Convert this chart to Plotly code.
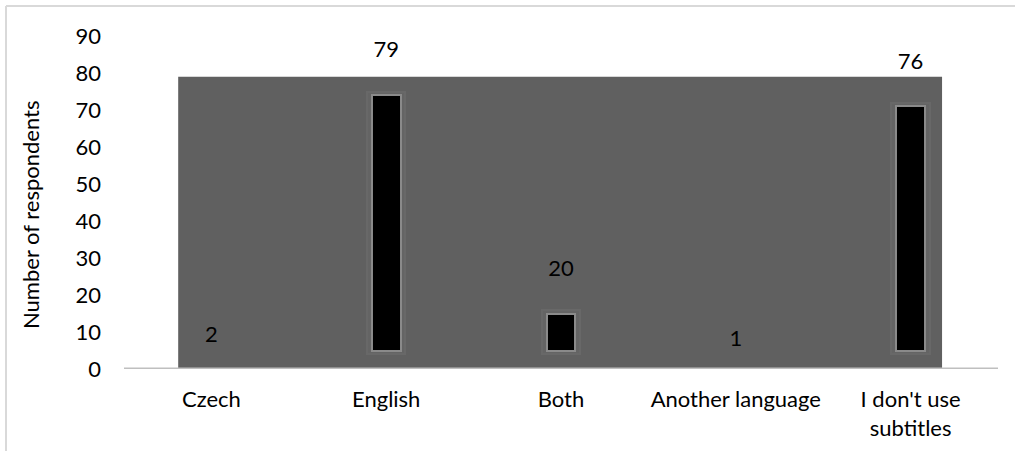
import plotly.graph_objects as go

categories = ["Czech", "English", "Both", "Another language", "I don't use<br>subtitles"]
values = [2, 79, 20, 1, 76]
y_ticks = [0, 10, 20, 30, 40, 50, 60, 70, 80, 90]

FONT = "Lato"
FS = 22
inset = 5
x_idx = list(range(len(categories)))

black_len = [v - 2 * inset if v > 2 * inset else None for v in values]

fig = go.Figure()

# faint halo behind bars
fig.add_trace(go.Bar(
    x=x_idx, y=[b + 2 if b else None for b in black_len], base=inset - 1,
    width=0.22, marker=dict(color="#646464", line=dict(color="#686868", width=2)),
    hoverinfo="skip", showlegend=False))
fig.add_trace(go.Bar(
    x=x_idx, y=black_len, base=inset, width=0.165,
    marker=dict(color="#000000", line=dict(color="#8a8a8a", width=2)),
    showlegend=False))

fig.add_trace(go.Scatter(
    x=x_idx, y=[v + 6.7 for v in values], mode="text",
    text=[str(v) for v in values], textposition="middle center",
    textfont=dict(family=FONT, size=FS, color="#000000"),
    hoverinfo="skip", showlegend=False))

fig.update_layout(
    width=1015, height=457,
    margin=dict(l=124, r=17, t=36, b=88),
    paper_bgcolor="white", plot_bgcolor="white",
    bargap=0, barmode="overlay",
    font=dict(family=FONT, size=FS, color="#000000"),
    xaxis=dict(range=[-0.5, 4.5], tickmode="array", tickvals=x_idx, ticktext=categories,
               showgrid=False, zeroline=False, showline=False, ticks="",
               ticklabelstandoff=15, tickfont=dict(family=FONT, size=FS, color="#000000")),
    yaxis=dict(range=[0, 90], tickmode="array", tickvals=y_ticks,
               ticktext=[str(t) for t in y_ticks],
               showgrid=False, zeroline=False, showline=False, ticks="",
               ticklabelstandoff=22, tickfont=dict(family=FONT, size=FS, color="#000000")),
    shapes=[
        dict(type="rect", xref="x", yref="y", x0=-0.19, x1=4.18, y0=0, y1=max(values),
             fillcolor="#606060", line=dict(width=0), layer="below"),
        dict(type="line", xref="paper", yref="y", x0=0, x1=1, y0=0, y1=0,
             line=dict(color="#bfbfbf", width=3), layer="above"),
        dict(type="line", xref="paper", yref="paper", x0=-118 / 874, x1=-118 / 874,
             y0=-82 / 333, y1=1 + 30 / 333, line=dict(color="#d9d9d9", width=2)),
        dict(type="line", xref="paper", yref="paper", x0=-118 / 874, x1=1 + 17 / 874,
             y0=1 + 30 / 333, y1=1 + 30 / 333, line=dict(color="#d9d9d9", width=2)),
    ],
    annotations=[dict(text="Number of respondents", xref="paper", yref="paper",
                      x=-94 / 874, y=(369 - 215) / 333, textangle=-90, showarrow=False,
                      xanchor="center", yanchor="middle",
                      font=dict(family=FONT, size=FS, color="#000000"))],
)

fig.write_html("out.html")
